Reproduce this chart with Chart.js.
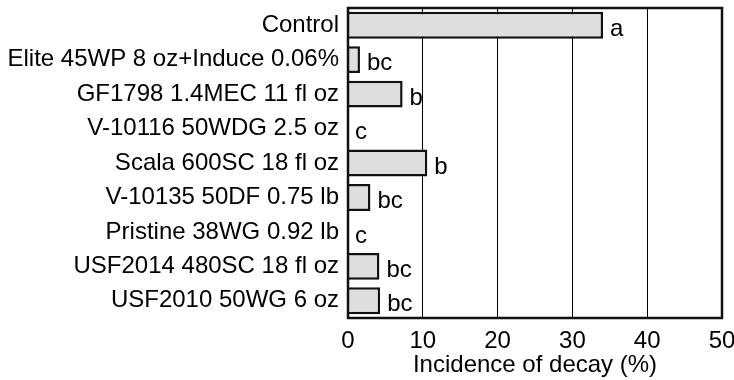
<!DOCTYPE html>
<html>
<head>
<meta charset="utf-8">
<script src="https://cdn.jsdelivr.net/npm/chart.js@4/dist/chart.umd.min.js"></script>
<style>
  html, body { margin: 0; padding: 0; background: #fff; }
  #wrap { width: 734px; height: 380px; }
</style>
</head>
<body>
<div id="wrap"><canvas id="c" width="734" height="380"></canvas></div>
<script>
const categories = [
  "Control",
  "Elite 45WP 8 oz+Induce 0.06%",
  "GF1798 1.4MEC 11 fl oz",
  "V-10116 50WDG 2.5 oz",
  "Scala 600SC 18 fl oz",
  "V-10135 50DF 0.75 lb",
  "Pristine 38WG 0.92 lb",
  "USF2014 480SC 18 fl oz",
  "USF2010 50WG 6 oz"
];
const decayValues = [34.1, 1.6, 7.3, 0, 10.6, 3.0, 0, 4.2, 4.3];
const letterGroups = ["a", "bc", "b", "c", "b", "bc", "c", "bc", "bc"];
const xTicks = [0, 10, 20, 30, 40, 50];

const FONT = "'Liberation Sans', Arial, sans-serif";
const FSIZE = 24;

const framePlugin = {
  id: 'frame',
  afterDatasetsDraw(chart) {
    const {ctx, chartArea: a} = chart;
    ctx.save();
    ctx.strokeStyle = '#111';
    ctx.lineWidth = 2.5;
    ctx.strokeRect(a.left, a.top, a.right - a.left, a.bottom - a.top);
    ctx.restore();
  }
};

const lettersPlugin = {
  id: 'letters',
  afterDatasetsDraw(chart) {
    const {ctx} = chart;
    const meta = chart.getDatasetMeta(0);
    const xs = chart.scales.x;
    ctx.save();
    ctx.fillStyle = '#000';
    ctx.font = FSIZE + 'px ' + FONT;
    ctx.textAlign = 'left';
    ctx.textBaseline = 'middle';
    meta.data.forEach((bar, i) => {
      const x = xs.getPixelForValue(decayValues[i]) + 7;
      ctx.fillText(letterGroups[i], x, bar.y + 4);
    });
    ctx.restore();
  }
};

new Chart(document.getElementById('c'), {
  type: 'bar',
  data: {
    labels: categories,
    datasets: [{
      data: decayValues,
      backgroundColor: '#dedede',
      borderColor: '#111',
      borderWidth: 2.5,
      barPercentage: 0.78,
      categoryPercentage: 1.0
    }]
  },
  options: {
    indexAxis: 'y',
    responsive: false,
    animation: false,
    layout: { padding: { top: 8, right: 12, left: 0, bottom: 0 } },
    plugins: { legend: { display: false }, tooltip: { enabled: false } },
    scales: {
      x: {
        min: 0, max: 50,
        afterBuildTicks(scale) { scale.ticks = xTicks.map(v => ({value: v})); },
        afterFit(scale) { scale.height = 62; scale.paddingRight = 0; scale.paddingLeft = 0; },
        grid: { color: '#000', lineWidth: 1, drawTicks: false },
        border: { display: false },
        ticks: { color: '#000', padding: 9, font: { family: FONT, size: FSIZE }, maxRotation: 0 },
        title: { display: true, text: 'Incidence of decay (%)', color: '#000',
                 font: { family: FONT, size: FSIZE }, padding: { top: 0, bottom: 0 } }
      },
      y: {
        afterFit(scale) { scale.width = 348; scale.paddingTop = 0; scale.paddingBottom = 0; },
        grid: { display: false, drawTicks: false },
        border: { display: false },
        ticks: { color: '#000', padding: 9, font: { family: FONT, size: FSIZE }, autoSkip: false }
      }
    }
  },
  plugins: [framePlugin, lettersPlugin]
});
</script>
</body>
</html>
